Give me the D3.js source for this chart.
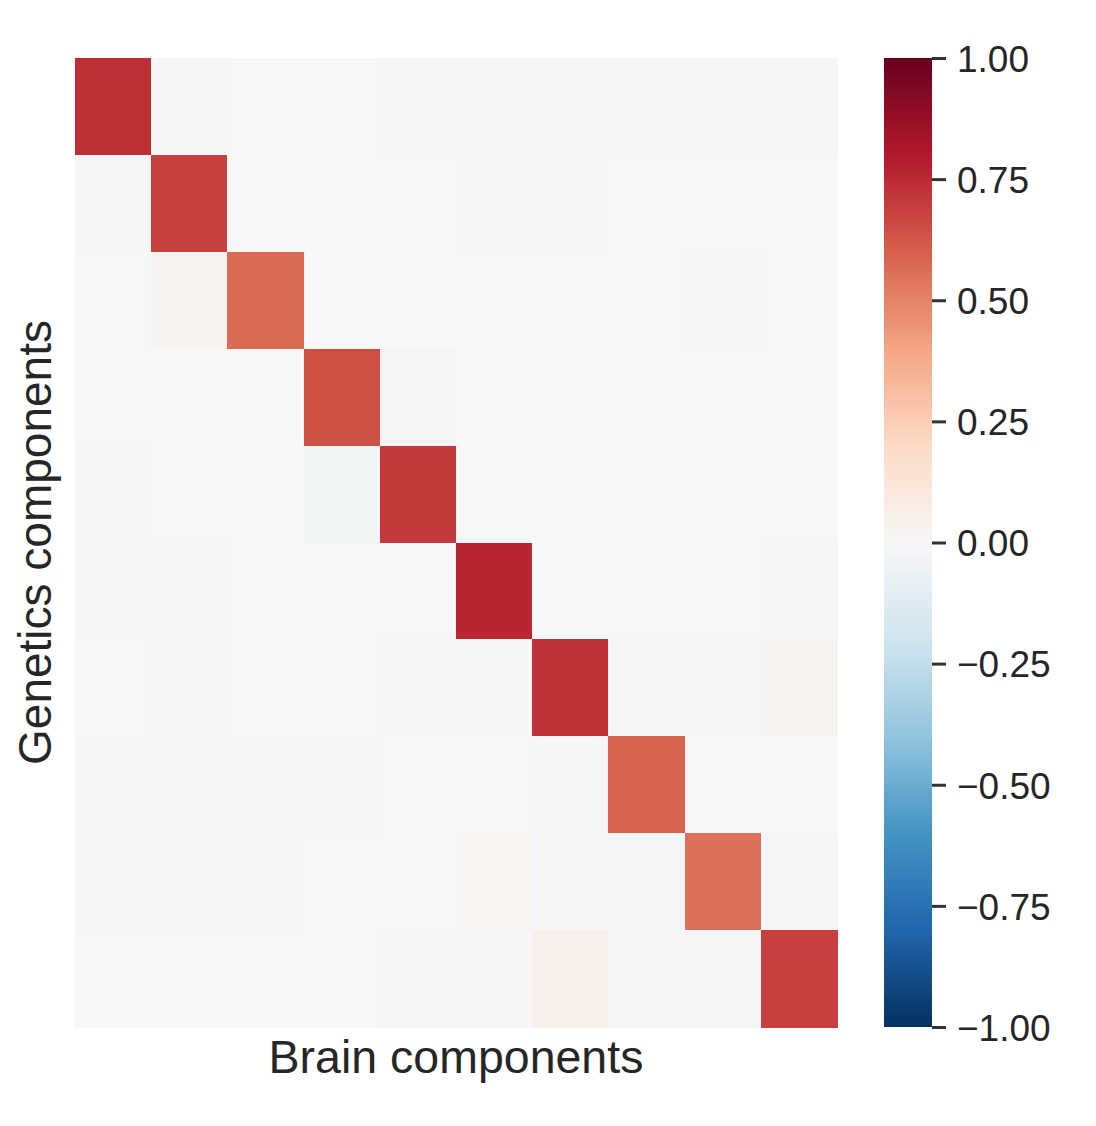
<!DOCTYPE html>
<html>
<head>
<meta charset="utf-8">
<script src="https://cdn.jsdelivr.net/npm/d3@7"></script>
<style>
  html, body { margin: 0; padding: 0; background: #ffffff; }
  svg { display: block; }
  text { font-family: "Liberation Sans", Arial, sans-serif; fill: #262626; }
</style>
</head>
<body>
<script>
// ---------- data ----------
const brainComponents = [0, 1, 2, 3, 4, 5, 6, 7, 8, 9];
const geneticsComponents = [0, 1, 2, 3, 4, 5, 6, 7, 8, 9];
const row0 = [0.74, -0.008, 0.0, 0.0, -0.008, -0.008, -0.008, -0.008, -0.008, -0.008];
const row1 = [-0.008, 0.69, 0.0, 0.0, 0.0, -0.008, -0.008, 0.0, -0.004, 0.0];
const row2 = [0.0, 0.03, 0.57, 0.0, 0.0, 0.0, 0.0, 0.0, -0.006, 0.0];
const row3 = [0.0, 0.0, 0.0, 0.645, -0.02, 0.0, 0.0, 0.0, 0.0, 0.0];
const row4 = [-0.008, 0.0, 0.0, -0.025, 0.705, -0.004, -0.004, -0.004, -0.004, -0.004];
const row5 = [-0.008, -0.008, 0.0, 0.0, 0.0, 0.76, 0.0, 0.0, 0.0, -0.008];
const row6 = [0.0, -0.008, 0.0, 0.0, -0.008, 0.01, 0.73, -0.008, -0.008, 0.03];
const row7 = [-0.008, -0.008, -0.008, 0.01, 0.0, 0.0, -0.008, 0.59, 0.0, 0.0];
const row8 = [-0.008, -0.008, -0.008, 0.0, 0.0, 0.025, -0.008, -0.02, 0.555, -0.008];
const row9 = [0.0, 0.0, 0.0, 0.0, -0.008, -0.008, 0.055, -0.008, -0.008, 0.69];
const correlationRows = [row0, row1, row2, row3, row4, row5, row6, row7, row8, row9];
const colorbarTicks = [1.0, 0.75, 0.5, 0.25, 0.0, -0.25, -0.5, -0.75, -1.0];
const xLabel = "Brain components";
const yLabel = "Genetics components";

// RdBu_r (ColorBrewer 11-class, reversed), piecewise linear like matplotlib
const rdbuColors = ["#053061", "#2166ac", "#4393c3", "#92c5de", "#d1e5f0",
                    "#f7f7f7", "#fddbc7", "#f4a582", "#d6604d", "#b2182b", "#67001f"];

// ---------- layout ----------
const W = 1096, H = 1126;
const hm = { left: 75, top: 58, right: 837, bottom: 1027 };
const cb = { left: 884, right: 932, top: 58, bottom: 1027 };

const svg = d3.select("body").append("svg").attr("width", W).attr("height", H);

const x = d3.scaleBand().domain(brainComponents).range([hm.left, hm.right]).paddingInner(0).paddingOuter(0);
const y = d3.scaleBand().domain(geneticsComponents).range([hm.top, hm.bottom]).paddingInner(0).paddingOuter(0);
const color = d3.scaleLinear()
  .domain(d3.range(11).map(i => -1 + i * 0.2))
  .range(rdbuColors)
  .interpolate(d3.interpolateRgb)
  .clamp(true);

const cells = [];
correlationRows.forEach((row, i) => row.forEach((v, j) => cells.push({ i, j, v })));

svg.append("g").selectAll("rect").data(cells).join("rect")
  .attr("x", d => x(brainComponents[d.j]))
  .attr("y", d => y(geneticsComponents[d.i]))
  .attr("width", x.bandwidth() + 0.5)
  .attr("height", y.bandwidth() + 0.5)
  .attr("fill", d => color(d.v))
  .attr("shape-rendering", "crispEdges");

// axis labels
svg.append("text")
  .attr("x", (hm.left + hm.right) / 2)
  .attr("y", 1073)
  .attr("text-anchor", "middle")
  .attr("font-size", 46.5)
  .text(xLabel);

svg.append("text")
  .attr("transform", `translate(51, ${(hm.top + hm.bottom) / 2}) rotate(-90)`)
  .attr("text-anchor", "middle")
  .attr("font-size", 46)
  .text(yLabel);

// ---------- colorbar ----------
const cbScale = d3.scaleLinear().domain([-1, 1]).range([cb.bottom, cb.top]);
const defs = svg.append("defs");
const grad = defs.append("linearGradient").attr("id", "cbgrad")
  .attr("x1", 0).attr("y1", 1).attr("x2", 0).attr("y2", 0);
d3.range(0, 101).forEach(k => {
  const t = k / 100;
  grad.append("stop").attr("offset", t).attr("stop-color", color(-1 + 2 * t));
});
svg.append("rect")
  .attr("x", cb.left).attr("y", cb.top)
  .attr("width", cb.right - cb.left).attr("height", cb.bottom - cb.top)
  .attr("fill", "url(#cbgrad)");

const fmt = v => {
  const s = d3.format(".2f")(Math.abs(v));
  return (v < 0 ? "\u2212" : "") + s;
};
const cbAxis = d3.axisRight(cbScale)
  .tickValues(colorbarTicks)
  .tickFormat(fmt)
  .tickSize(14)
  .tickPadding(11);
const gAxis = svg.append("g").attr("transform", `translate(${cb.right},0)`).call(cbAxis);
gAxis.select(".domain").remove();
gAxis.selectAll(".tick line").attr("stroke", "#333").attr("stroke-width", 3);
gAxis.selectAll(".tick text")
  .attr("font-family", "'Liberation Sans', Arial, sans-serif")
  .attr("font-size", 37)
  .attr("fill", "#262626")
  .attr("dy", "0.36em");
</script>
</body>
</html>
